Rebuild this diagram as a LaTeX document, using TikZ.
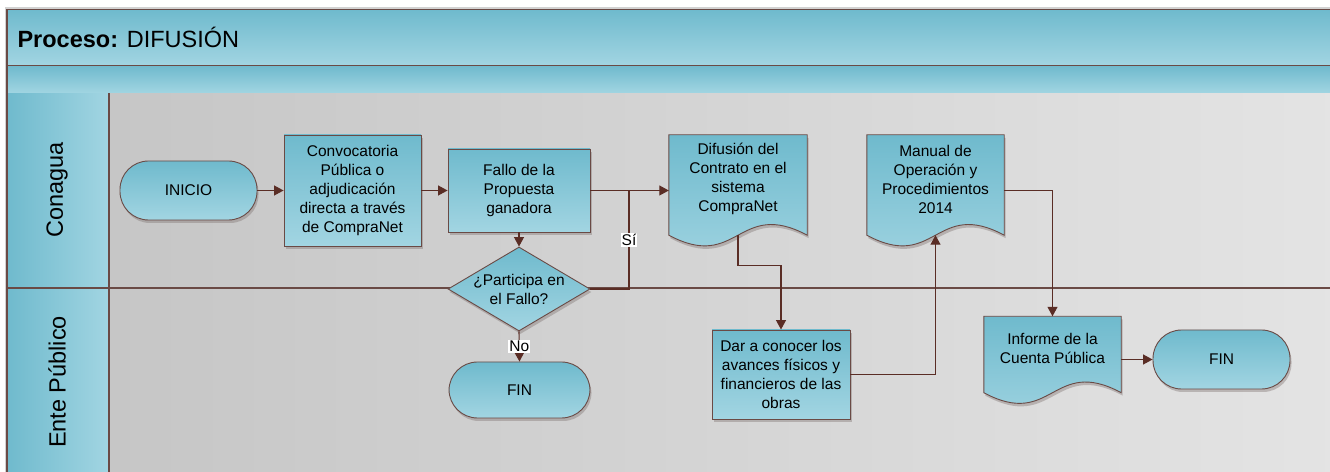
\documentclass[tikz,border=0pt]{standalone}
\usepackage{fontspec}
\setmainfont{Liberation Sans}
\usetikzlibrary{shapes.geometric,arrows.meta,calc,shadows}
\definecolor{boxtop}{HTML}{6FBACD}
\definecolor{boxbot}{HTML}{A2D5E2}
\definecolor{edge}{HTML}{5A2D25}
\definecolor{bord}{HTML}{6A4A45}
\definecolor{lanel}{HTML}{C6C6C6}
\definecolor{laner}{HTML}{E4E4E4}
\definecolor{shad}{HTML}{7E7270}
\definecolor{frameg}{HTML}{D2D2D2}
\pgfdeclarelayer{lanes}
\pgfdeclarelayer{shapes}
\pgfsetlayers{lanes,shapes,main}
\tikzset{
  nodetext/.style={font=\fontsize{15.5}{19}\selectfont, align=center, text=black},
  boxfill/.style={top color=boxtop, bottom color=boxbot, draw=bord, line width=0.9pt,
    drop shadow={shadow xshift=1.5pt, shadow yshift=-3pt, opacity=0.4, fill=shad}},
  procbox/.style={nodetext, boxfill, rectangle, inner sep=2pt},
  termbox/.style={nodetext, boxfill, rectangle, rounded corners=28.5pt},
  decbox/.style={nodetext, boxfill, diamond, aspect=1.69, inner xsep=-4pt, inner ysep=-3pt},
  docbox/.style={nodetext, rectangle, inner sep=2pt},
  flow/.style={draw=edge, line width=1.1pt, -{Triangle[length=9.5pt,width=10pt]}},
  flowline/.style={draw=edge, line width=1.1pt},
  edgelabel/.style={fill=white, inner sep=1pt, text=black, font=\fontsize{15.5}{19}\selectfont},
  bandline/.style={draw=bord, line width=1.2pt},
  lanetitle/.style={rotate=90, font=\fontsize{23.5}{28}\selectfont, text=black},
}
\newcommand\docshape[1]{%
  \fill[shad, opacity=0.4, transform canvas={xshift=1.5pt,yshift=-3pt}]
    (#1.north west) -- (#1.north east) -- ($(#1.south east)+(0,-12)$)
    .. controls ($(#1.south)+(0,25)$) and ($(#1.south)+(0,-49)$) ..
    ($(#1.south west)+(0,-12)$) -- cycle;
  \path[top color=boxtop, bottom color=boxbot, draw=bord, line width=0.9pt]
    (#1.north west) -- (#1.north east) -- ($(#1.south east)+(0,-12)$)
    .. controls ($(#1.south)+(0,25)$) and ($(#1.south)+(0,-49)$) ..
    ($(#1.south west)+(0,-12)$) -- cycle;}
\begin{document}
\begin{tikzpicture}[x=1pt,y=1pt]
\useasboundingbox (0,0) rectangle (1330,471);
% ---------- pool and lanes ----------
\begin{pgfonlayer}{lanes}
  \fill[frameg] (5,464) rectangle (1345,-10);
  \path[top color=boxtop, bottom color=boxbot, bandline] (7,461.5) rectangle (1345,405.5);
  \path[top color=boxtop, bottom color=boxbot, bandline] (7,405.5) rectangle (1345,377.5);
  \path[left color=lanel, right color=laner] (109,377.5) rectangle (1345,-10);
  \path[left color=boxtop, right color=boxbot] (7,377.5) rectangle (109,-10);
  \draw[bandline] (7,461.5) -- (7,-10);
  \draw[bandline] (109,377.5) -- (109,-10);
  \draw[bandline] (7,183) -- (1345,183);
  \node[anchor=west, font=\fontsize{23.5}{28}\selectfont] (title) at (14,434)
    {\textbf{Proceso:} DIFUSIÓN};
  \node[lanetitle] (lane1) at (57,281) {Conagua};
  \node[lanetitle] (lane2) at (57,89) {Ente Público};
\end{pgfonlayer}
% ---------- nodes ----------
\node[termbox, minimum width=137pt, minimum height=59pt] (ini) at (188.5,280.5) {INICIO};
\node[procbox, minimum width=137pt, minimum height=111pt] (conv) at (352.5,280.5)
  {Convocatoria\\Pública o\\adjudicación\\directa a través\\de CompraNet};
\node[procbox, minimum width=142pt, minimum height=83pt] (fallo) at (519,280.5)
  {Fallo de la\\Propuesta\\ganadora};
\node[decbox, minimum width=142pt, minimum height=84pt] (dec) at (519,182)
  {¿Participa en\\el Fallo?};
\node[termbox, minimum width=141pt, minimum height=56pt] (fin1) at (519.5,81) {FIN};
\node[docbox, minimum width=138pt, minimum height=88pt] (dif) at (738,292)
  {Difusión del\\Contrato en el\\sistema\\CompraNet};
\node[procbox, minimum width=138pt, minimum height=89pt] (dar) at (781,96.5)
  {Dar a conocer los\\avances físicos y\\financieros de las\\obras};
\node[docbox, minimum width=137pt, minimum height=88pt] (man) at (935.5,292)
  {Manual de\\Operación y\\Procedimientos\\2014};
\node[docbox, minimum width=137pt, minimum height=64pt] (inf) at (1052.5,122.5)
  {Informe de la\\Cuenta Pública};
\node[termbox, minimum width=137pt, minimum height=59pt] (fin2) at (1221.5,111.5) {FIN};
\begin{pgfonlayer}{shapes}
  \docshape{dif}
  \docshape{man}
  \docshape{inf}
\end{pgfonlayer}
% ---------- connectors ----------
\coordinate (sj) at (629,280.5);
\coordinate (difb) at ($(dif.south)+(0,-12)$);
\coordinate (manb) at ($(man.south)+(0,-12)$);
\coordinate (mano) at ($(man.east)+(0,-11.5)$);
\draw[flow] (ini.east) -- (conv.west);
\draw[flow] (conv.east) -- (fallo.west);
\draw[flow] (fallo.east) -- (fallo.east -| dif.west);
\draw[flow] (fallo.south) -- (dec.north);
\draw[flowline] (dec.east) -| (sj) node[pos=0.75, edgelabel] {Sí};
\draw[flow] (dec.south) -- (fin1.north) node[midway, edgelabel] {No};
\draw[flow] (difb) -- ++(0,-30.5) -| (dar.north);
\draw[flow] (dar.east) -| (manb);
\draw[flow] (mano) -| (inf.north);
\draw[flow] (fin2.west -| inf.east) -- (fin2.west);
\end{tikzpicture}
\end{document}
